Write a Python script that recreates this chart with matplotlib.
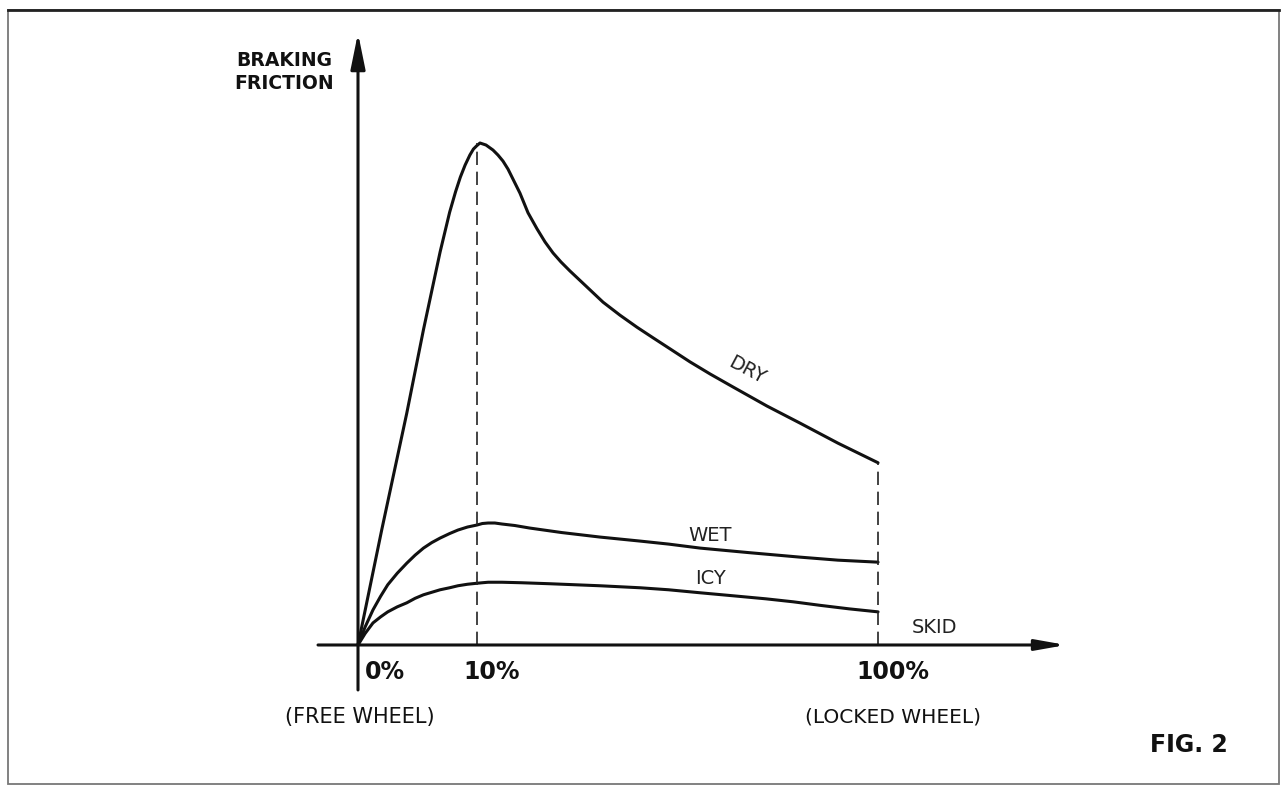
"""
Braking friction vs. skid (FIG. 2)
"""
import numpy as np
import matplotlib
matplotlib.use("Agg")
import matplotlib.pyplot as plt
from matplotlib.patches import Rectangle
from matplotlib.lines import Line2D

# skid in %, friction normalised so that the dry peak is 1.0
dry_skid = [0, 2.0, 4.1, 5.5, 6.9, 7.7, 8.2, 8.6, 9.0, 9.4, 9.7, 10.0, 10.67,
            12.02, 13.59, 14.71, 15.83, 16.96, 18.08, 19.65, 21.45, 23.47,
            25.26, 27.06, 28.85, 30.87, 34.46, 38.28, 42.09, 45.91, 49.50,
            53.31, 57.80, 62.29, 67.45, 75.08, 82.49, 91.02, 100]
dry_friction = [0, 0.230, 0.462, 0.628, 0.783, 0.862, 0.903, 0.932, 0.956,
                0.976, 0.988, 0.995, 1.0, 0.996, 0.986, 0.976, 0.964, 0.948,
                0.928, 0.900, 0.861, 0.829, 0.803, 0.781, 0.763, 0.745, 0.715,
                0.683, 0.657, 0.633, 0.612, 0.590, 0.564, 0.540, 0.514, 0.476,
                0.442, 0.402, 0.363]

wet_skid = [0, 0.6, 1.26, 1.9, 2.5, 3.3, 4.1, 4.8, 5.5, 6.2, 6.9, 7.7, 8.4,
            9.2, 10, 11.2, 12.5, 14.0, 15.6, 18.5, 21.8, 29.0, 37.6, 46.6,
            53.0, 60.1, 71.0, 82.5, 91, 100]
wet_friction = [0, 0.036, 0.070, 0.097, 0.120, 0.143, 0.163, 0.179, 0.193,
                0.204, 0.213, 0.222, 0.229, 0.235, 0.239, 0.242, 0.243, 0.243,
                0.241, 0.238, 0.233, 0.224, 0.215, 0.207, 0.201, 0.193, 0.184,
                0.175, 0.169, 0.165]

icy_skid = [0, 0.6, 1.26, 1.9, 2.5, 3.3, 4.1, 4.8, 5.5, 6.2, 6.9, 7.7, 8.4,
            9.2, 10, 11.2, 12.5, 14.0, 15.6, 20.0, 26.4, 32.0, 37.6, 46.6,
            53.0, 60.1, 67.5, 74.8, 81.0, 87, 93.5, 100]
icy_friction = [0, 0.023, 0.044, 0.056, 0.066, 0.076, 0.084, 0.093, 0.100,
                0.105, 0.110, 0.114, 0.118, 0.121, 0.123, 0.124, 0.125, 0.125,
                0.125, 0.124, 0.122, 0.120, 0.118, 0.114, 0.110, 0.104, 0.098,
                0.092, 0.086, 0.079, 0.072, 0.066]

tick_pos = [0, 10, 100]
tick_text = ["0%", "10%", "100%"]
peak_skid = 10
peak_dry = 1.0
locked_dry = 0.363


# schematic axis: 0-10% is stretched compared with 10-100%
def fwd(x):
    x = np.asarray(x, dtype=float)
    return np.where(x <= 10, x * 11.9, 119 + (x - 10) * 4.456)


def inv(p):
    p = np.asarray(p, dtype=float)
    return np.where(p <= 119, p / 11.9, 10 + (p - 119) / 4.456)


fig = plt.figure(figsize=(12.83, 7.87), dpi=100)
ax = fig.add_axes([0, 0, 1, 1])
ax.set_xscale("function", functions=(fwd, inv))
ax.set_xlim(-30.084, 190.88)
ax.set_ylim(-0.2829, 1.2849)
ax.axis("off")

lw = 2.2
for xs, ys in [(dry_skid, dry_friction), (wet_skid, wet_friction),
               (icy_skid, icy_friction)]:
    ax.plot(xs, ys, color="#111111", lw=lw, solid_joinstyle="round",
            solid_capstyle="round")

# dashed guides
ax.plot([peak_skid, peak_skid], [0, peak_dry], color="#222222", lw=1.2,
        dashes=(8, 4))
ax.plot([100, 100], [0, locked_dry], color="#222222", lw=1.2, dashes=(8, 4))

# axes with arrows
ax.annotate("", xy=(0, 1.219), xytext=(0, -0.0896),
            arrowprops=dict(arrowstyle="-|>,head_length=1.08,head_width=0.22",
                            mutation_scale=20, lw=lw, color="#111111",
                            shrinkA=0, shrinkB=0))
ax.annotate("", xy=(142.2, 0), xytext=(-3.36, 0),
            arrowprops=dict(arrowstyle="-|>,head_length=0.9,head_width=0.16",
                            mutation_scale=20, lw=lw, color="#111111",
                            shrinkA=0, shrinkB=0))

# tick labels
tick_x = [2.27, 13.37, 103.36]
for x, t in zip(tick_x, tick_text):
    ax.text(x, -0.054, t, ha="center", va="center", fontsize=17,
            fontweight="bold", color="#111111")

ax.text(0.17, -0.143, "(FREE WHEEL)", ha="center", va="center", fontsize=15,
        color="#111111")
ax.text(103.36, -0.143, "(LOCKED WHEEL)", ha="center", va="center",
        fontsize=14.5, color="#111111")
ax.text(-6.2, 1.141, "BRAKING\nFRICTION", ha="center", va="center",
        fontsize=13.5, fontweight="bold", linespacing=1.3, color="#111111")
ax.text(112.56, 0.034, "SKID", ha="center", va="center", fontsize=14,
        color="#222222")
ax.text(70.59, 0.548, "DRY", ha="center", va="center", fontsize=14,
        rotation=-28, color="#222222")
ax.text(62.29, 0.219, "WET", ha="center", va="center", fontsize=14,
        color="#222222")
ax.text(62.29, 0.133, "ICY", ha="center", va="center", fontsize=14,
        color="#222222")
ax.text(169.8, -0.199, "FIG. 2", ha="center", va="center", fontsize=17,
        fontweight="bold", color="#111111")

# page frame
fig.patches.append(Rectangle((8 / 1283, 3 / 787), 1271 / 1283, 774 / 787,
                             transform=fig.transFigure, fill=False,
                             edgecolor="#777777", lw=1.3))
fig.lines.append(Line2D([8 / 1283, 1279 / 1283], [777 / 787, 777 / 787],
                        transform=fig.transFigure, color="#222222", lw=2.0))

fig.savefig("out.png", dpi=100)
